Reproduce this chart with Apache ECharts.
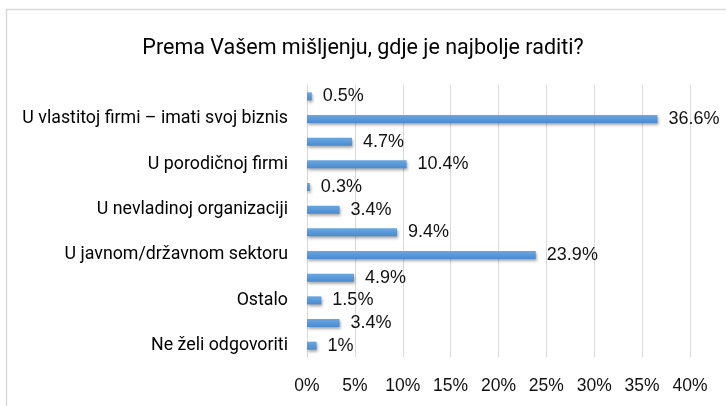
<!DOCTYPE html>
<html>
<head>
<meta charset="utf-8">
<script src="https://cdn.jsdelivr.net/npm/echarts@6/dist/echarts.min.js"></script>
<style>
  html, body { margin: 0; padding: 0; background: #fff; }
  #chart { width: 726px; height: 406px; }
</style>
</head>
<body>
<div id="chart"></div>
<script>
// every second category label is hidden in the original (Excel skipped them)
const categories = [
  "", "U vlastitoj firmi – imati svoj biznis",
  "", "U porodičnoj firmi",
  "", "U nevladinoj organizaciji",
  "", "U javnom/državnom sektoru",
  "", "Ostalo",
  "", "Ne želi odgovoriti",
];
const values = [0.5, 36.6, 4.7, 10.4, 0.3, 3.4, 9.4, 23.9, 4.9, 1.5, 3.4, 1];
const xTicks = { min: 0, max: 40, interval: 5 };

const narrow = "Roboto, sans-serif";
const arial = "'Liberation Sans', Arial, sans-serif";

const chart = echarts.init(document.getElementById("chart"));
chart.setOption({
  animation: false,
  title: {
    text: "Prema Vašem mišljenju, gdje je najbolje raditi?",
    left: "center",
    top: 33,
    textStyle: { fontFamily: narrow, fontSize: 21.5, fontWeight: "normal", color: "#000" },
  },
  graphic: [
    {
      type: "rect",
      shape: { x: 6.5, y: 9.5, width: 760, height: 420 },
      style: { fill: "none", stroke: "#d9d9d9", lineWidth: 1.5 },
    },
  ],
  grid: { left: 307, right: 36, top: 85, bottom: 49, outerBoundsMode: "none", containLabel: false },
  xAxis: {
    type: "value",
    min: xTicks.min,
    max: xTicks.max,
    interval: xTicks.interval,
    axisLine: { show: false },
    axisTick: { show: false },
    splitLine: { lineStyle: { color: "#d9d9d9" } },
    axisLabel: {
      formatter: "{value}%",
      margin: 20,
      fontFamily: arial,
      fontSize: 17.5,
      color: "#111",
    },
  },
  yAxis: {
    type: "category",
    inverse: true,
    data: categories,
    axisLine: { lineStyle: { color: "#d9d9d9" } },
    axisTick: { show: false },
    axisLabel: {
      interval: 0,
      margin: 19,
      fontFamily: narrow,
      fontSize: 17.8,
      color: "#000",
    },
  },
  series: [
    {
      type: "bar",
      data: values,
      barWidth: 8,
      itemStyle: {
        color: new echarts.graphic.LinearGradient(0, 0, 0, 1, [
          { offset: 0, color: "#6aa7e0" },
          { offset: 1, color: "#4a8bd0" },
        ]),
        shadowColor: "rgba(0,0,0,0.35)",
        shadowBlur: 3,
        shadowOffsetX: 1,
        shadowOffsetY: 2,
      },
      label: {
        show: true,
        position: "right",
        distance: 11,
        formatter: "{c}%",
        fontFamily: arial,
        fontSize: 18,
        color: "#111",
      },
    },
  ],
});
</script>
</body>
</html>
